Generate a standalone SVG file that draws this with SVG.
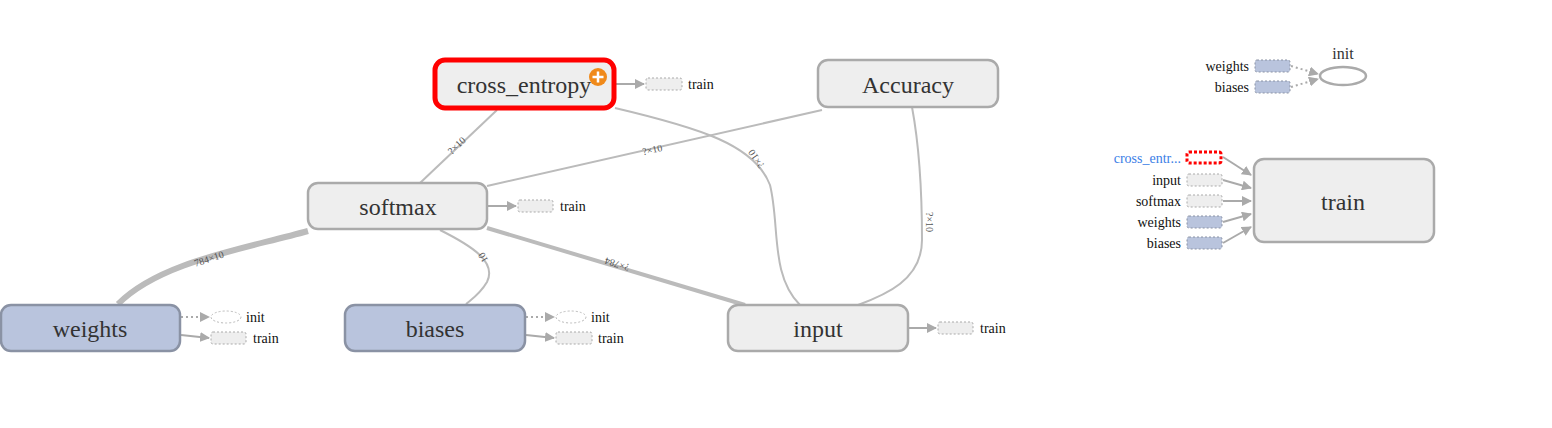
<svg xmlns="http://www.w3.org/2000/svg" width="1552" height="428" viewBox="0 0 1552 428">
<style>
.node{fill:#eeeeee;stroke:#aaaaaa;stroke-width:2.5}
.var{fill:#b9c4dd;stroke:#8a92a4;stroke-width:2.5}
.lbl{font-family:"Liberation Serif",serif;font-size:24px;fill:#333;text-anchor:middle}
.edge{fill:none;stroke:#bbbbbb;stroke-width:2}
.el{font-family:"Liberation Serif",serif;font-size:10px;fill:#555;text-anchor:middle}
.stub{fill:#eeeeee;stroke:#aaaaaa;stroke-width:1;stroke-dasharray:2 2}
.vstub{fill:#b9c4dd;stroke:#8a92a4;stroke-width:1;stroke-dasharray:2 2}
.ring{fill:#fff;stroke:#bbbbbb;stroke-width:1;stroke-dasharray:2 2}
.sl{font-family:"Liberation Serif",serif;font-size:14px;fill:#111}
.sa{fill:none;stroke:#aaaaaa;stroke-width:2;marker-end:url(#ah)}
.sd{fill:none;stroke:#aaaaaa;stroke-width:2;stroke-dasharray:2 3;marker-end:url(#ah)}
</style>
<defs>
<marker id="ah" viewBox="0 0 10 10" refX="9" refY="5" markerWidth="5" markerHeight="5" orient="auto" markerUnits="strokeWidth">
<path d="M0,0 L10,5 L0,10 z" fill="#aaaaaa"/>
</marker>
</defs>
<g id="connectors">
<path class="edge" d="M497,110 L420,183"/>
<text class="el" transform="translate(459,148) rotate(-43.5)">?×10</text>
<path class="edge" d="M822,110 L487,186"/>
<text class="el" transform="translate(653,153) rotate(-12.8)">?×10</text>
<path class="edge" d="M615,108 C 700,128 755,145 770,185 C 780,225 770,275 800,305"/>
<text class="el" transform="translate(759,157) rotate(235)">?×10</text>
<path class="edge" d="M912,107 C 920,150 922,195 922,240 C 922,280 885,295 858,305"/>
<text class="el" transform="translate(926,222) rotate(90)">?×10</text>
<path class="edge" style="stroke-width:6" d="M308,231 C 240,250 160,262 118,304"/>
<text class="el" transform="translate(210,262) rotate(-18)">784×10</text>
<path class="edge" d="M440,230 C 472,246 497,262 487,282 C 480,294 472,299 466,304"/>
<text class="el" transform="translate(486,256) rotate(240)">10</text>
<path class="edge" style="stroke-width:4" d="M487,228 L745,305"/>
<text class="el" transform="translate(618,261) rotate(196.6)">?×784</text>
<path class="sa" d="M616,84 L644,84"/>
<path class="sa" d="M488,206 L516,206"/>
<path class="sd" d="M181,317 L209,317"/>
<path class="sa" d="M181,335 L209,338"/>
<path class="sd" d="M526,317 L554,317"/>
<path class="sa" d="M526,335 L554,338"/>
<path class="sa" d="M909,328 L936,328"/>
<path class="sd" d="M1291,66 L1318,74"/>
<path class="sd" d="M1291,87 L1318,79"/>
<path class="sa" d="M1223,157 L1251,175"/>
<path class="sa" d="M1223,180 L1251,188"/>
<path class="sa" d="M1223,201 L1251,201"/>
<path class="sa" d="M1223,222 L1251,214"/>
<path class="sa" d="M1223,243 L1251,227"/>
</g>
<g id="cross_entropy">
<rect x="435" y="60" width="179" height="48" rx="10" fill="#eeeeee" stroke="#ff0000" stroke-width="5"/>
<text class="lbl" x="524" y="93">cross_entropy</text>
<circle cx="598" cy="77" r="9" fill="#f08a1a"/>
<path d="M598,71.5 V82.5 M592.5,77 H603.5" stroke="#fff" stroke-width="2.5"/>
<rect class="stub" x="646" y="78" width="36" height="12" rx="2"/>
<text class="sl" x="688" y="89">train</text>
</g>
<g id="Accuracy">
<rect class="node" x="818" y="60" width="180" height="47" rx="10"/>
<text class="lbl" x="908" y="93">Accuracy</text>
</g>
<g id="softmax">
<rect class="node" x="308" y="183" width="179" height="46" rx="10"/>
<text class="lbl" x="398" y="215">softmax</text>
<rect class="stub" x="518" y="200" width="35" height="12" rx="2"/>
<text class="sl" x="560" y="211">train</text>
</g>
<g id="weights">
<rect class="var" x="1" y="305" width="179" height="46" rx="10"/>
<text class="lbl" x="90" y="337">weights</text>
<ellipse class="ring" cx="226" cy="317" rx="15" ry="6"/>
<text class="sl" x="246" y="322">init</text>
<rect class="stub" x="211" y="332" width="35" height="12" rx="2"/>
<text class="sl" x="253" y="343">train</text>
</g>
<g id="biases">
<rect class="var" x="345" y="305" width="180" height="46" rx="10"/>
<text class="lbl" x="435" y="337">biases</text>
<ellipse class="ring" cx="571" cy="317" rx="15" ry="6"/>
<text class="sl" x="591" y="322">init</text>
<rect class="stub" x="556" y="332" width="36" height="12" rx="2"/>
<text class="sl" x="598" y="343">train</text>
</g>
<g id="input">
<rect class="node" x="728" y="305" width="180" height="46" rx="10"/>
<text class="lbl" x="818" y="337">input</text>
<rect class="stub" x="938" y="322" width="35" height="12" rx="2"/>
<text class="sl" x="980" y="333">train</text>
</g>
<g id="init">
<ellipse cx="1343" cy="76" rx="23" ry="9" fill="#fff" stroke="#aaaaaa" stroke-width="2.5"/>
<text class="sl" x="1343" y="59" text-anchor="middle" style="font-size:16px;fill:#333">init</text>
<rect class="vstub" x="1255" y="60" width="35" height="12" rx="2"/>
<text class="sl" x="1249" y="71" text-anchor="end">weights</text>
<rect class="vstub" x="1255" y="81" width="35" height="12" rx="2"/>
<text class="sl" x="1249" y="92" text-anchor="end">biases</text>
</g>
<g id="train">
<rect class="node" x="1254" y="159" width="180" height="83" rx="10"/>
<text class="lbl" x="1343" y="210">train</text>
<rect x="1187" y="152" width="34" height="11" rx="2" fill="none" stroke="#ff0000" stroke-width="3" stroke-dasharray="3 2"/>
<text class="sl" x="1181" y="163" text-anchor="end" style="fill:#3b7ee6">cross_entr...</text>
<rect class="stub" x="1187" y="174" width="35" height="12" rx="2"/>
<text class="sl" x="1181" y="185" text-anchor="end">input</text>
<rect class="stub" x="1187" y="195" width="35" height="12" rx="2"/>
<text class="sl" x="1181" y="206" text-anchor="end">softmax</text>
<rect class="vstub" x="1187" y="216" width="35" height="12" rx="2"/>
<text class="sl" x="1181" y="227" text-anchor="end">weights</text>
<rect class="vstub" x="1187" y="237" width="35" height="12" rx="2"/>
<text class="sl" x="1181" y="248" text-anchor="end">biases</text>
</g>
</svg>
